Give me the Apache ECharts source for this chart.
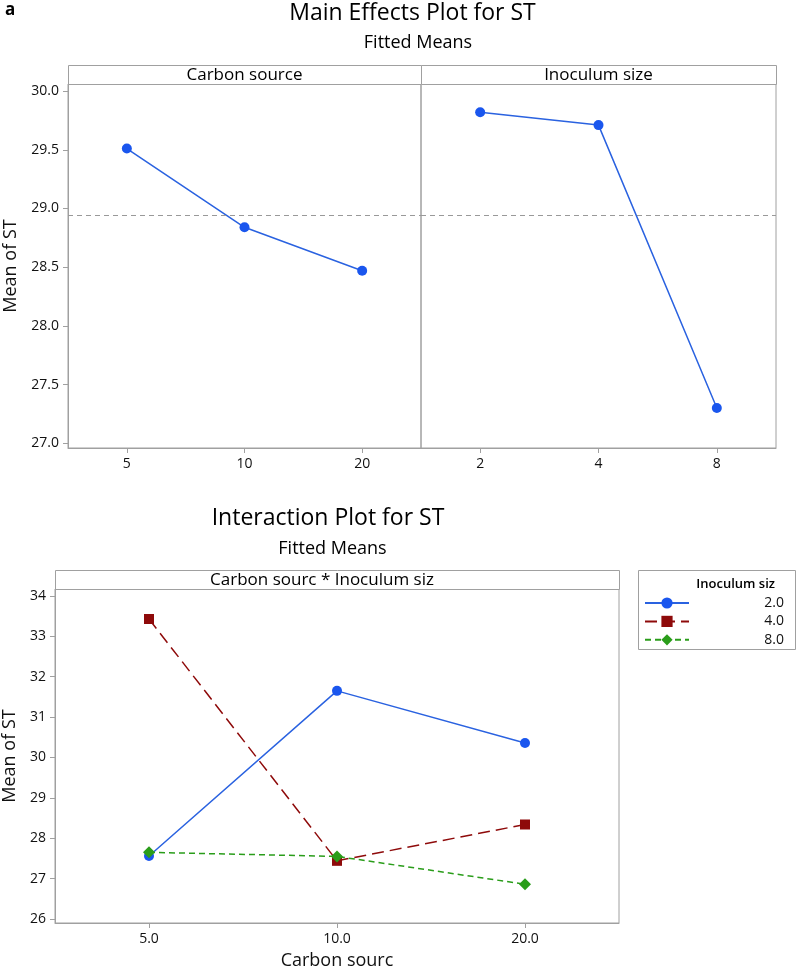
<!DOCTYPE html>
<html><head><meta charset="utf-8">
<script src="https://cdn.jsdelivr.net/npm/echarts@6/dist/echarts.min.js"></script>
<style>html,body{margin:0;padding:0;background:#fff}#c{width:797px;height:969px}</style>
</head><body><div id="c"></div>
<script>
// ---- data ----
const carbonLevels = ['5', '10', '20'];
const carbonMeans = [29.51, 28.84, 28.47];
const inoculumLevels = ['2', '4', '8'];
const inoculumMeans = [29.82, 29.71, 27.30];
const grandMean = 28.94;
const mainTicks = [27.0, 27.5, 28.0, 28.5, 29.0, 29.5, 30.0];

const interCategories = ['5.0', '10.0', '20.0'];
const inoc2 = [27.56, 31.65, 30.36];
const inoc4 = [33.43, 27.44, 28.34];
const inoc8 = [27.65, 27.55, 26.86];
const interTicks = [26, 27, 28, 29, 30, 31, 32, 33, 34];
const legendNames = ['2.0', '4.0', '8.0'];

// ---- styling ----
const FONT = 'Open Sans';
const FRAME = '#a0a0a0';
const BLUE = '#1a56ee', BLUE_LINE = '#2a62e0';
const RED = '#8e0a0a';
const GREEN = '#2a9d1a';

const chart = echarts.init(document.getElementById('c'), null, {renderer: 'canvas'});

function catAxis(grid, data, fontSize, extra) {
  return Object.assign({
    type: 'category', gridIndex: grid, data: data, boundaryGap: true,
    axisLine: {show: true, lineStyle: {color: FRAME, width: 1}},
    axisTick: {show: true, alignWithLabel: true, length: 5, lineStyle: {color: FRAME}},
    axisLabel: {color: '#111', fontFamily: FONT, fontSize: fontSize, margin: 9},
    splitLine: {show: false}
  }, extra || {});
}
function valAxis(grid, min, max, ticks, digits, show, extra) {
  return Object.assign({
    type: 'value', gridIndex: grid, min: min, max: max, show: show,
    axisLine: {show: true, lineStyle: {color: FRAME, width: 1}},
    axisTick: {show: true, length: 5, customValues: ticks, lineStyle: {color: FRAME}},
    axisLabel: {color: '#111', fontFamily: FONT, fontSize: 14, margin: 9,
      customValues: ticks, formatter: v => Number(v).toFixed(digits)},
    splitLine: {show: false}
  }, extra || {});
}
const refLine = {
  silent: true, symbol: 'none', label: {show: false},
  lineStyle: {color: '#999', type: [5, 4], width: 1},
  data: [{yAxis: grandMean}]
};
const gridBase = {show: true, borderColor: FRAME, borderWidth: 1, containLabel: false, outerBoundsMode: 'none'};

const option = {
  animation: false,
  backgroundColor: '#fff',
  textStyle: {fontFamily: FONT},
  grid: [
    Object.assign({left: 68, top: 84, width: 353, height: 364}, gridBase),
    Object.assign({left: 421, top: 84, width: 355, height: 364}, gridBase),
    Object.assign({left: 55, top: 589, width: 564, height: 334}, gridBase)
  ],
  xAxis: [
    catAxis(0, carbonLevels, 14),
    catAxis(1, inoculumLevels, 14),
    catAxis(2, interCategories, 14, {
      name: 'Carbon sourc', nameLocation: 'middle', nameGap: 29,
      nameTextStyle: {fontFamily: FONT, fontSize: 18, color: '#111'}
    })
  ],
  yAxis: [
    valAxis(0, 26.96, 30.06, mainTicks, 1, true, {
      name: 'Mean of ST', nameLocation: 'middle', nameGap: 48.5,
      nameTextStyle: {fontFamily: FONT, fontSize: 18, color: '#111'}
    }),
    valAxis(1, 26.96, 30.06, mainTicks, 1, false),
    valAxis(2, 25.90, 34.173, interTicks, 0, true, {
      name: 'Mean of ST', nameLocation: 'middle', nameGap: 35.5,
      nameTextStyle: {fontFamily: FONT, fontSize: 18, color: '#111'}
    })
  ],
  legend: {
    orient: 'vertical', left: 644, top: 596, itemWidth: 44, itemHeight: 14, itemGap: 4.4,
    padding: 0, data: legendNames,
    formatter: n => '{a|' + n + '}',
    textStyle: {fontFamily: FONT, fontSize: 14, color: '#111',
      rich: {a: {width: 90, align: 'right', fontFamily: FONT, fontSize: 14, color: '#111'}}}
  },
  series: [
    {type: 'line', xAxisIndex: 0, yAxisIndex: 0, data: carbonMeans,
      symbol: 'circle', symbolSize: 10, itemStyle: {color: BLUE},
      lineStyle: {color: BLUE_LINE, width: 1.5}, markLine: refLine},
    {type: 'line', xAxisIndex: 1, yAxisIndex: 1, data: inoculumMeans,
      symbol: 'circle', symbolSize: 10, itemStyle: {color: BLUE},
      lineStyle: {color: BLUE_LINE, width: 1.5}, markLine: refLine},
    {type: 'line', name: legendNames[0], xAxisIndex: 2, yAxisIndex: 2, data: inoc2,
      symbol: 'circle', symbolSize: 10, itemStyle: {color: BLUE},
      lineStyle: {color: BLUE_LINE, width: 1.5}},
    {type: 'line', name: legendNames[1], xAxisIndex: 2, yAxisIndex: 2, data: inoc4,
      symbol: 'rect', symbolSize: 10, itemStyle: {color: RED},
      lineStyle: {color: RED, width: 1.5, type: [12, 6]}},
    {type: 'line', name: legendNames[2], xAxisIndex: 2, yAxisIndex: 2, data: inoc8,
      symbol: 'diamond', symbolSize: 12, itemStyle: {color: GREEN},
      lineStyle: {color: GREEN, width: 1.5, type: [6, 4]}}
  ],
  graphic: [
    {type: 'text', left: 5, top: 2, style: {text: 'a', font: 'bold 17px "' + FONT + '"', fill: '#000'}},
    {type: 'text', x: 412.5, y: 13, style: {text: 'Main Effects Plot for ST', font: '23px "' + FONT + '"',
      fill: '#000', align: 'center', verticalAlign: 'middle'}},
    {type: 'text', x: 418, y: 43, style: {text: 'Fitted Means', font: '18px "' + FONT + '"',
      fill: '#000', align: 'center', verticalAlign: 'middle'}},
    {type: 'rect', shape: {x: 68.5, y: 65.5, width: 353, height: 19}, style: {fill: '#fff', stroke: FRAME, lineWidth: 1}},
    {type: 'rect', shape: {x: 421.5, y: 65.5, width: 355, height: 19}, style: {fill: '#fff', stroke: FRAME, lineWidth: 1}},
    {type: 'text', x: 244.5, y: 75, style: {text: 'Carbon source', font: '17px "' + FONT + '"',
      fill: '#000', align: 'center', verticalAlign: 'middle'}},
    {type: 'text', x: 598.5, y: 75, style: {text: 'Inoculum size', font: '17px "' + FONT + '"',
      fill: '#000', align: 'center', verticalAlign: 'middle'}},

    {type: 'text', x: 328, y: 518, style: {text: 'Interaction Plot for ST', font: '23px "' + FONT + '"',
      fill: '#000', align: 'center', verticalAlign: 'middle'}},
    {type: 'text', x: 332.5, y: 549, style: {text: 'Fitted Means', font: '18px "' + FONT + '"',
      fill: '#000', align: 'center', verticalAlign: 'middle'}},
    {type: 'rect', shape: {x: 55.5, y: 570.5, width: 564, height: 19}, style: {fill: '#fff', stroke: FRAME, lineWidth: 1}},
    {type: 'text', x: 322, y: 580, style: {text: 'Carbon sourc * Inoculum siz', font: '17px "' + FONT + '"',
      fill: '#000', align: 'center', verticalAlign: 'middle'}},

    {type: 'rect', z: -1, shape: {x: 638.5, y: 570.5, width: 157, height: 79}, style: {fill: '#fff', stroke: FRAME, lineWidth: 1}},
    {type: 'text', x: 775, y: 584, style: {text: 'Inoculum siz', font: '600 13px "' + FONT + '"',
      fill: '#000', align: 'right', verticalAlign: 'middle'}}
  ]
};
chart.setOption(option);
</script></body></html>
